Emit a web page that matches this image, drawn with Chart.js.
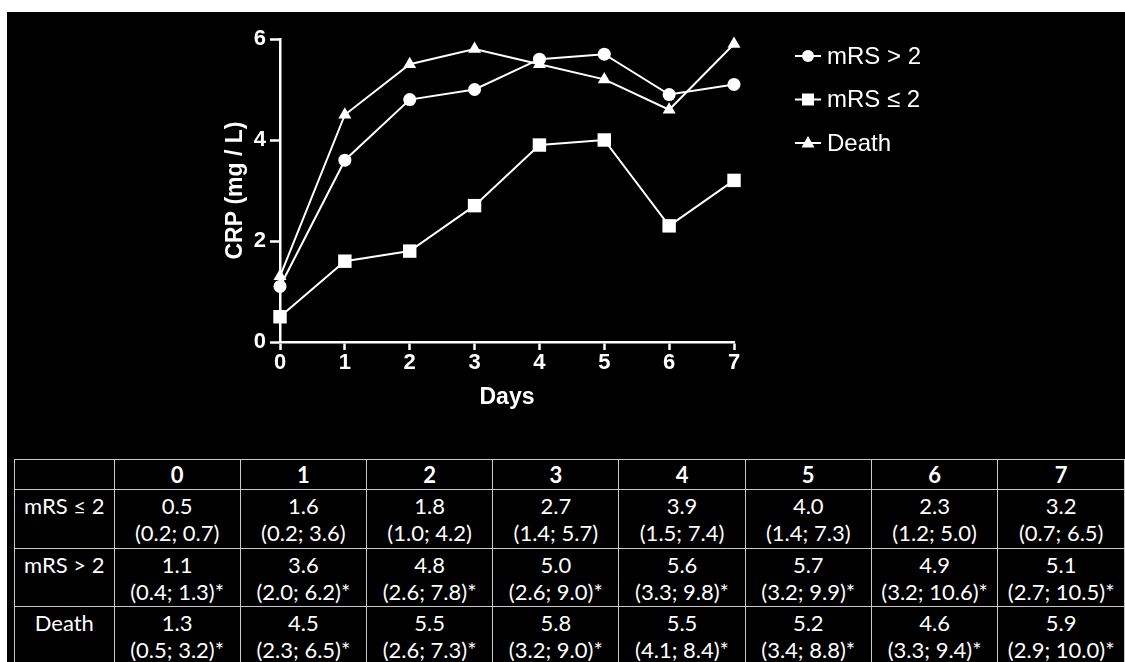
<!DOCTYPE html>
<html>
<head>
<meta charset="utf-8">
<script src="https://cdn.jsdelivr.net/npm/chart.js@4/dist/chart.umd.min.js"></script>
<style>
  html, body { margin: 0; padding: 0; background: #fff; overflow: hidden; width: 1125px; height: 662px; }
  #bg { position: absolute; left: 7px; top: 12px; width: 1118px; height: 650px; background: #000; }
  #wrap { position: absolute; left: 0; top: 0; width: 1125px; height: 440px; }
  #tbl { position: absolute; left: 14px; top: 459px; border-collapse: collapse; table-layout: fixed;
         font-family: Lato, "Open Sans", sans-serif; color: #fff; font-size: 22px; }
  #tbl td { border: 1px solid #c8c8c8; text-align: center; vertical-align: top; padding: 2px 0 0 0;
            line-height: 27px; white-space: nowrap; overflow: hidden; }
  #tbl tr.head td { font-weight: bold; vertical-align: middle; padding: 0; }
</style>
</head>
<body>
<div id="bg"></div>
<div id="wrap"><canvas id="grafico" width="1125" height="440"></canvas></div>
<table id="tbl"></table>
<script>
const days = ['0', '1', '2', '3', '4', '5', '6', '7'];
const mrsHigh = [1.1, 3.6, 4.8, 5.0, 5.6, 5.7, 4.9, 5.1];
const mrsLow = [0.5, 1.6, 1.8, 2.7, 3.9, 4.0, 2.3, 3.2];
const death = [1.3, 4.5, 5.5, 5.8, 5.5, 5.2, 4.6, 5.9];

// intervalos interquartis
const mrsLowIqr = ['(0.2; 0.7)', '(0.2; 3.6)', '(1.0; 4.2)', '(1.4; 5.7)', '(1.5; 7.4)', '(1.4; 7.3)', '(1.2; 5.0)', '(0.7; 6.5)'];
const mrsHighIqr = ['(0.4; 1.3)*', '(2.0; 6.2)*', '(2.6; 7.8)*', '(2.6; 9.0)*', '(3.3; 9.8)*', '(3.2; 9.9)*', '(3.2; 10.6)*', '(2.7; 10.5)*'];
const deathIqr = ['(0.5; 3.2)*', '(2.3; 6.5)*', '(2.6; 7.3)*', '(3.2; 9.0)*', '(4.1; 8.4)*', '(3.4; 8.8)*', '(3.3; 9.4)*', '(2.9; 10.0)*'];

const yTicks = [0, 2, 4, 6];

// tabela
const tbl = document.getElementById('tbl');
let html = '<colgroup><col style="width:100px">';
days.forEach(() => { html += '<col style="width:127px">'; });
html += '</colgroup>';
html += '<tr class="head" style="height:30px"><td></td>' + days.map(d => '<td>' + d + '</td>').join('') + '</tr>';
const linhas = [
    ['mRS ≤ 2', mrsLow, mrsLowIqr, 59],
    ['mRS > 2', mrsHigh, mrsHighIqr, 58],
    ['Death', death, deathIqr, 58]
];
linhas.forEach(l => {
    html += '<tr style="height:' + l[3] + 'px"><td>' + l[0] + '</td>';
    l[1].forEach((v, i) => {
        html += '<td>' + v.toFixed(1) + '<br>' + l[2][i] + '</td>';
    });
    html += '</tr>';
});
tbl.innerHTML = html;

// legenda ao lado, com traço e marcador
const legendaLateral = {
    id: 'legendaLateral',
    afterDraw(chart) {
        const ctx = chart.ctx;
        ctx.save();
        chart.data.datasets.forEach((ds, i) => {
            const y = 56 + i * 43.5;
            const x = 808;
            ctx.strokeStyle = '#fff';
            ctx.fillStyle = '#fff';
            ctx.lineWidth = 2;
            ctx.beginPath();
            ctx.moveTo(795, y);
            ctx.lineTo(821, y);
            ctx.stroke();
            ctx.beginPath();
            if (ds.pointStyle === 'circle') {
                ctx.arc(x, y, 6, 0, Math.PI * 2);
            } else if (ds.pointStyle === 'rect') {
                ctx.rect(x - 6, y - 6, 12, 12);
            } else {
                ctx.moveTo(x, y - 7);
                ctx.lineTo(x + 6.5, y + 4.5);
                ctx.lineTo(x - 6.5, y + 4.5);
                ctx.closePath();
            }
            ctx.fill();
            ctx.font = '24px "Liberation Sans", Arial, sans-serif';
            ctx.textBaseline = 'middle';
            ctx.textAlign = 'left';
            ctx.fillText(ds.label, 827, y + 1);
        });
        ctx.restore();
    }
};

const fonteEixo = { family: '"Liberation Sans", Arial, sans-serif', weight: 'bold', size: 22 };
const fonteTitulo = { family: '"Liberation Sans", Arial, sans-serif', weight: 'bold', size: 23 };

function serie(label, data, estilo, raio) {
    return {
        label: label,
        data: data,
        borderColor: '#fff',
        backgroundColor: '#fff',
        borderWidth: 2,
        pointStyle: estilo,
        pointRadius: raio,
        pointHoverRadius: raio,
        pointBackgroundColor: '#fff',
        pointBorderColor: '#fff',
        pointBorderWidth: 0,
        tension: 0,
        clip: false
    };
}

new Chart(document.getElementById('grafico'), {
    type: 'line',
    data: {
        labels: days,
        datasets: [
            serie('mRS > 2', mrsHigh, 'circle', 6.5),
            serie('mRS ≤ 2', mrsLow, 'rect', 9.5),
            serie('Death', death, 'triangle', 7.5)
        ]
    },
    options: {
        responsive: false,
        animation: false,
        devicePixelRatio: 1,
        layout: { padding: { left: 222, right: 391, top: 39, bottom: 29 } },
        plugins: {
            legend: { display: false },
            tooltip: { enabled: false }
        },
        scales: {
            x: {
                offset: false,
                grid: { display: true, drawOnChartArea: false, drawTicks: true, tickLength: 8, tickColor: '#fff', tickWidth: 2.5, color: '#fff' },
                border: { display: true, color: '#fff', width: 2.5 },
                ticks: { color: '#fff', font: fonteEixo, padding: 0, maxRotation: 0, autoSkip: false },
                title: { display: true, text: 'Days', color: '#fff', font: fonteTitulo, padding: 0 },
                afterFit: function (s) { s.height = 69; }
            },
            y: {
                min: 0,
                max: 6,
                afterBuildTicks: function (s) { s.ticks = yTicks.map(v => ({ value: v })); },
                grid: { display: true, drawOnChartArea: false, drawTicks: true, tickLength: 10, tickColor: '#fff', tickWidth: 2.5, color: '#fff' },
                border: { display: true, color: '#fff', width: 2.5 },
                ticks: { color: '#fff', font: fonteEixo, padding: 4 },
                title: { display: true, text: 'CRP (mg / L)', color: '#fff', font: fonteTitulo, padding: 0 },
                afterFit: function (s) { s.width = 58; }
            }
        }
    },
    plugins: [legendaLateral]
});
</script>
</body>
</html>
